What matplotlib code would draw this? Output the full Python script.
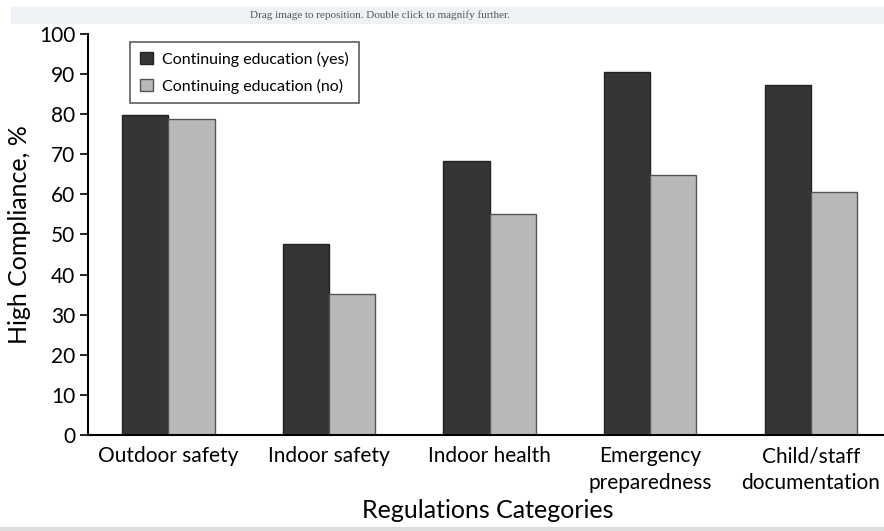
import numpy as np
import matplotlib.pyplot as plt
from matplotlib.patches import Rectangle

# Data
categories = ["Outdoor safety", "Indoor safety", "Indoor health",
              "Emergency\npreparedness", "Child/staff\ndocumentation"]
ce_yes = [79.8, 47.6, 68.4, 90.4, 87.3]
ce_no = [78.7, 35.2, 55.1, 64.8, 60.7]
yticks = list(range(0, 101, 10))

plt.rcParams['font.family'] = ['Lato', 'DejaVu Sans']

fig = plt.figure(figsize=(8.84, 5.31), dpi=100)

# viewer banner at the top
fig.patches.append(Rectangle((0.012, 0.955), 0.99, 0.032, transform=fig.transFigure,
                             facecolor='#eef1f5', edgecolor='none'))
fig.text(0.43, 0.972, "Drag image to reposition. Double click to magnify further.",
         family='Liberation Serif', fontsize=8, color='#555555',
         ha='center', va='center')
fig.patches.append(Rectangle((0, 0), 1, 0.008, transform=fig.transFigure,
                             facecolor='#dddddd', edgecolor='none'))

ax = fig.add_axes([0.0995, 0.181, 0.905, 0.755])

x = np.arange(len(categories))
w = 0.288
ax.bar(x - w / 2, ce_yes, w, color='#353535', edgecolor='#222222', linewidth=1,
       label='Continuing education (yes)')
ax.bar(x + w / 2, ce_no, w, color='#b8b8b8', edgecolor='#555555', linewidth=1,
       label='Continuing education (no)')

ax.set_xlim(-0.5, 4.48)
ax.set_ylim(0, 100)
ax.set_yticks(yticks)
ax.set_xticks(x)
ax.set_xticklabels(categories, fontsize=15, linespacing=1.45)
ax.tick_params(axis='x', length=0, pad=8)
ax.tick_params(axis='y', labelsize=15, length=6, width=1.2, direction='out', pad=3)

for s in ['top', 'right']:
    ax.spines[s].set_visible(False)
ax.spines['left'].set_linewidth(1.5)
ax.spines['bottom'].set_linewidth(1.5)

ax.set_xlabel("Regulations Categories", fontsize=18, labelpad=4)
ax.set_ylabel("High Compliance, %", fontsize=18, labelpad=6)

leg = ax.legend(loc='upper left', bbox_to_anchor=(0.043, 1.0), fontsize=11.5,
                frameon=True, fancybox=False, edgecolor='#333333',
                handlelength=0.8, handleheight=0.8, handletextpad=0.6,
                labelspacing=0.75, borderpad=0.6)
leg.get_frame().set_linewidth(1.2)

fig.savefig("out.png", dpi=100)
